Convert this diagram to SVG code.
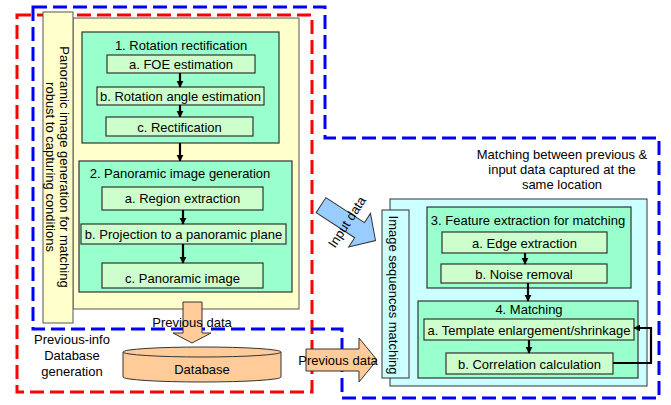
<svg xmlns="http://www.w3.org/2000/svg" width="671" height="405" viewBox="0 0 671 405">
<defs>
<style>
text{font-family:"Liberation Sans",Arial,sans-serif;font-size:13px;fill:#000;text-anchor:middle}
.panel{fill:#ffffcc;stroke:#555;stroke-width:1}
.cyan{fill:#ccffff;stroke:#333;stroke-width:1}
.grp{fill:#99ffcc;stroke:#333;stroke-width:1.2}
.sub{fill:#ccffcc;stroke:#333;stroke-width:1.2}
.blk{fill:#ffcc99;stroke:#333;stroke-width:1}
.dash{fill:none;stroke-width:3;stroke-dasharray:14 6}
.conn{fill:none;stroke:#000;stroke-width:2.2}
</style>
<marker id="ah" viewBox="0 0 10 10" refX="9" refY="5" markerWidth="3.2" markerHeight="3.2" orient="auto-start-reverse" markerUnits="strokeWidth">
<path d="M0,0 L10,5 L0,10 z" fill="#000"/>
</marker>
</defs>
<rect width="671" height="405" fill="#fff"/>

<!-- dashed regions -->
<g id="regions">
<rect x="17" y="15" width="295" height="377" class="dash" stroke="#ff0000"/>
<path d="M33,7 H325 V138 H659 V398 H342 V329 H33 Z" class="dash" stroke="#0000ff"/>
</g>

<!-- left side -->
<g id="panel-left">
<rect x="73" y="18" width="226" height="291" class="panel"/>
</g>
<g id="label-left">
<rect x="43" y="12" width="30" height="311" class="panel"/>
<text transform="translate(60,167) rotate(90)">Panoramic image generation for matching</text>
<text transform="translate(46,167) rotate(90)">robust to capturing conditions</text>
</g>

<g id="step1">
<rect x="82" y="32" width="197" height="111" class="grp"/>
<text x="181" y="49.5">1. Rotation rectification</text>
</g>
<g id="step1a"><rect x="107" y="55" width="148" height="18" class="sub"/><text x="181" y="68.5">a. FOE estimation</text></g>
<g id="step1b"><rect x="97" y="87" width="167" height="18" class="sub"/><text x="180.5" y="100.5">b. Rotation angle estimation</text></g>
<g id="step1c"><rect x="106" y="117" width="147" height="19" class="sub"/><text x="179.5" y="131.5">c. Rectification</text></g>

<g id="step2">
<rect x="79" y="161" width="213" height="131" class="grp"/>
<text x="180" y="177.5">2. Panoramic image generation</text>
</g>
<g id="step2a"><rect x="102" y="187" width="161" height="23" class="sub"/><text x="182.5" y="202.5">a. Region extraction</text></g>
<g id="step2b"><rect x="81" y="224" width="205" height="20" class="sub"/><text x="183.5" y="238.5">b. Projection to a panoramic plane</text></g>
<g id="step2c"><rect x="102" y="263" width="161" height="25" class="sub"/><text x="182.5" y="283">c. Panoramic image</text></g>

<g id="region-label">
<text x="72" y="344">Previous-info</text>
<text x="72" y="360">Database</text>
<text x="72" y="376">generation</text>
</g>

<g id="database">
<path d="M123,352 V377 A79,5 0 0 0 281,377 V352" class="blk"/>
<ellipse cx="202" cy="352" rx="79" ry="5" class="blk"/>
<text x="202" y="374">Database</text>
</g>

<!-- right side -->
<g id="panel-right">
<rect x="390" y="199" width="257" height="187" class="cyan"/>
</g>
<g id="label-right">
<rect x="382" y="210" width="27" height="168" class="cyan"/>
<text transform="translate(389,295) rotate(90)">Image sequences matching</text>
</g>
<g id="region-label-right">
<text x="562" y="158.5">Matching between previous &amp;</text>
<text x="562" y="173.5">input data captured at the</text>
<text x="562" y="188.5">same location</text>
</g>

<g id="step3">
<rect x="427" y="207" width="204" height="81" class="grp"/>
<text x="528" y="224.5">3. Feature extraction for matching</text>
</g>
<g id="step3a"><rect x="442" y="232" width="165" height="21" class="sub"/><text x="524.5" y="247.5">a. Edge extraction</text></g>
<g id="step3b"><rect x="441" y="264" width="166" height="19" class="sub"/><text x="524" y="278.5">b. Noise removal</text></g>

<g id="step4">
<rect x="418" y="301" width="220" height="77" class="grp"/>
<text x="529" y="313.5">4. Matching</text>
</g>
<g id="step4a"><rect x="424" y="319" width="210" height="21" class="sub"/><text x="529" y="334.5">a. Template enlargement/shrinkage</text></g>
<g id="step4b"><rect x="446" y="353" width="167" height="21" class="sub"/><text x="529.5" y="368.5">b. Correlation calculation</text></g>

<!-- block arrows -->
<g id="arrow-prev-down">
<path d="M183,302 H202 V333 H211 L192,343 L173,333 H183 Z" class="blk"/>
<text x="192" y="327">Previous data</text>
</g>
<g id="arrow-prev-right">
<path d="M306,349 H359 V338 L377,360 L359,382 V371 H306 Z" class="blk"/>
<text x="338" y="365">Previous data</text>
</g>
<g id="arrow-input">
<path d="M-31,-9 H15 V-20 L34,0 L15,20 V9 H-31 Z" transform="translate(347,222) rotate(33)" fill="#99ccff" stroke="#333" stroke-width="1"/>
<text transform="translate(347,222) rotate(-57)" y="4.5">Input data</text>
</g>

<!-- connectors -->
<g id="connectors">
<line x1="180" y1="73" x2="180" y2="87" class="conn" marker-end="url(#ah)"/>
<line x1="180" y1="105" x2="180" y2="117" class="conn" marker-end="url(#ah)"/>
<line x1="180" y1="143" x2="180" y2="161" class="conn" marker-end="url(#ah)"/>
<line x1="183" y1="210" x2="183" y2="224" class="conn" marker-end="url(#ah)"/>
<line x1="183" y1="244" x2="183" y2="263" class="conn" marker-end="url(#ah)"/>
<line x1="525" y1="253" x2="525" y2="264" class="conn" marker-end="url(#ah)"/>
<line x1="528" y1="283" x2="528" y2="301" class="conn" marker-end="url(#ah)"/>
<line x1="529" y1="340" x2="529" y2="353" class="conn" marker-end="url(#ah)"/>
<path d="M613,363 H651 V328 H634" class="conn" stroke-width="2.5" marker-end="url(#ah)"/>
</g>
</svg>
